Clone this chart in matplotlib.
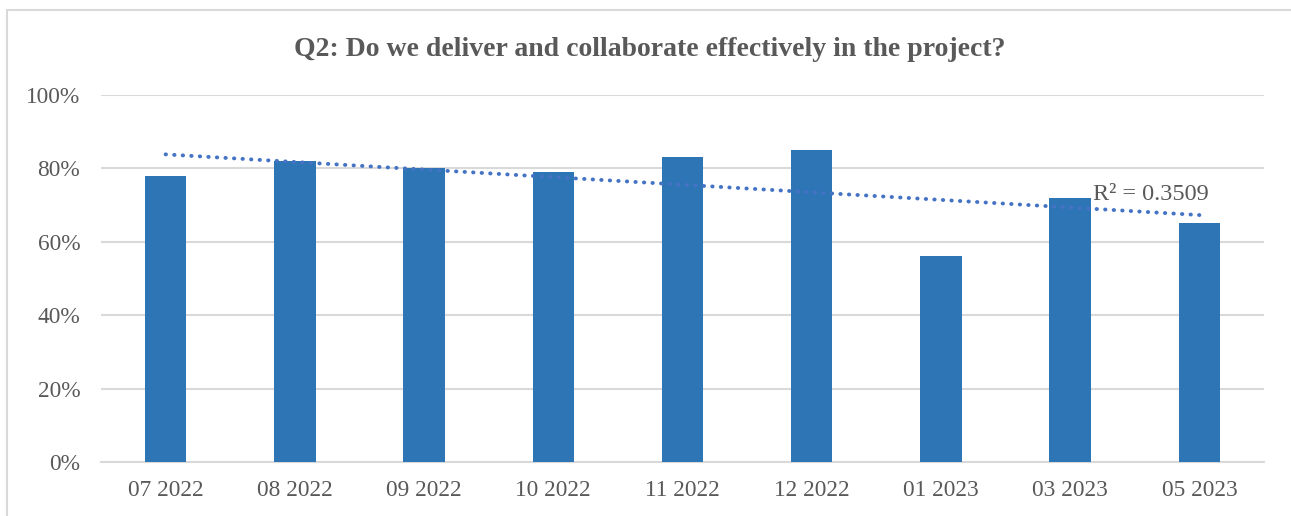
import numpy as np
import matplotlib
matplotlib.use("Agg")
import matplotlib.pyplot as plt
from matplotlib.patches import Rectangle
from matplotlib.ticker import FuncFormatter

categories = ["07 2022", "08 2022", "09 2022", "10 2022", "11 2022",
              "12 2022", "01 2023", "03 2023", "05 2023"]
scores = [78, 82, 80, 79, 83, 85, 56, 72, 65]
title = "Q2: Do we deliver and collaborate effectively in the project?"

plt.rcParams["font.family"] = ["Liberation Serif", "DejaVu Serif"]

W, H, DPI = 1291, 516, 100
fig = plt.figure(figsize=(W / DPI, H / DPI), dpi=DPI)
fig.patch.set_facecolor("white")

# chart frame (runs off the right and bottom edges)
fig.patches.append(Rectangle((7 / W, -0.1), 1.2, 1.1 - 9.5 / H,
                             transform=fig.transFigure, fill=False,
                             edgecolor="#D9D9D9", linewidth=1.5))

ax = fig.add_axes([101 / W, 1 - 462 / H, (1264 - 101) / W, (462 - 95) / H])

x = np.arange(len(categories))
y = np.array(scores, dtype=float)
ax.bar(x, y, width=0.32, color="#2E75B6", zorder=3)

# linear trendline
slope, intercept = np.polyfit(x, y, 1)
fit = slope * x + intercept
r2 = 1 - np.sum((y - fit) ** 2) / np.sum((y - y.mean()) ** 2)
ax.plot(x, fit, color="#4472C4", linewidth=2.8, linestyle=(0, (0.1, 2.1)),
        dash_capstyle="round", zorder=4)
ax.text(7.18, 73.0, f"R² = {r2:.4f}", fontsize=17.5, color="#595959",
        va="center", ha="left", zorder=5)

ax.set_xlim(-0.5, len(categories) - 0.5)
ax.set_ylim(0, 100)
ax.set_yticks(np.arange(0, 101, 20))
ax.yaxis.set_major_formatter(FuncFormatter(lambda v, p: f"{v:.0f}%"))
ax.set_xticks(x)
ax.set_xticklabels(categories)
ax.tick_params(axis="both", length=0, labelsize=16.8, labelcolor="#595959")
ax.tick_params(axis="x", pad=13)
ax.tick_params(axis="y", pad=15)
ax.grid(axis="y", color="#D9D9D9", linewidth=1.5, zorder=0)
for side in ("top", "right", "left"):
    ax.spines[side].set_visible(False)
ax.spines["bottom"].set_color("#D9D9D9")
ax.spines["bottom"].set_linewidth(1.5)

fig.text((292 + 1007) / 2 / W, 1 - 49 / H, title, ha="center", va="center",
         fontsize=20, fontweight="bold", color="#595959")

fig.savefig("out.png", dpi=DPI, facecolor="white")
